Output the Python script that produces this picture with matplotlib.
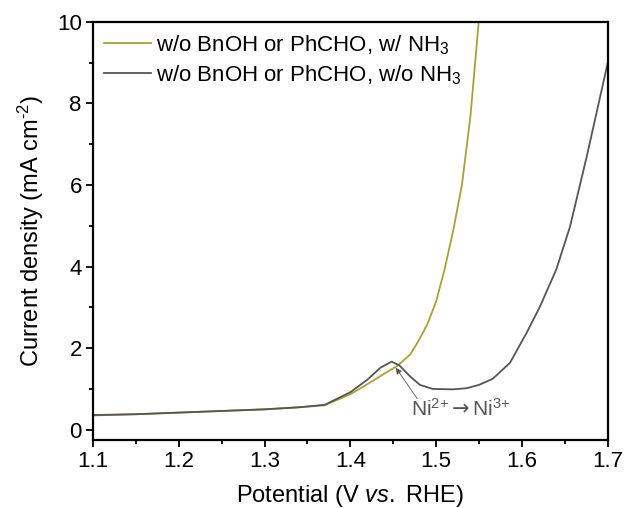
import matplotlib.pyplot as plt
from matplotlib.ticker import MultipleLocator

plt.rcParams["font.family"] = ["Liberation Sans", "DejaVu Sans"]
plt.rcParams["mathtext.fontset"] = "custom"
plt.rcParams["mathtext.rm"] = "Liberation Sans"
plt.rcParams["mathtext.it"] = "Liberation Sans:italic"
plt.rcParams["mathtext.bf"] = "Liberation Sans:bold"
plt.rcParams["mathtext.sf"] = "DejaVu Sans"

# LSV curves, potential in V vs. RHE, current density in mA cm^-2
pot_nh3 = [1.10, 1.15, 1.20, 1.25, 1.30, 1.34, 1.37, 1.40, 1.42, 1.44, 1.455,
           1.47, 1.48, 1.49, 1.50, 1.51, 1.52, 1.53, 1.54, 1.55]
cur_nh3 = [0.35, 0.38, 0.42, 0.46, 0.50, 0.55, 0.60, 0.87, 1.12, 1.38, 1.57,
           1.85, 2.20, 2.60, 3.15, 3.95, 4.90, 6.00, 7.70, 10.10]

pot_no_nh3 = [1.10, 1.15, 1.20, 1.25, 1.30, 1.34, 1.37, 1.40, 1.42, 1.435, 1.448,
              1.457, 1.469, 1.481, 1.496, 1.52, 1.536, 1.55, 1.566, 1.586, 1.6055,
              1.621, 1.64, 1.656, 1.6755, 1.70]
cur_no_nh3 = [0.36, 0.38, 0.42, 0.46, 0.50, 0.55, 0.61, 0.92, 1.23, 1.52, 1.67,
              1.58, 1.32, 1.10, 1.00, 0.99, 1.02, 1.10, 1.25, 1.64, 2.38,
              3.02, 3.93, 4.98, 6.70, 9.00]

fig = plt.figure(figsize=(6.24, 5.08), dpi=100)
ax = fig.add_axes([0.149, 0.134, 0.825, 0.823])

ax.plot(pot_nh3, cur_nh3, color="#a5a336", lw=1.3,
        label="w/o BnOH or PhCHO, w/ NH$_3$")
ax.plot(pot_no_nh3, cur_no_nh3, color="#555555", lw=1.3,
        label="w/o BnOH or PhCHO, w/o NH$_3$")

# redox peak label with a thin pointer to the peak shoulder
ax.text(1.471, 0.52,
        "$\\mathrm{Ni}^{2{+}}{\\mathsf{\\rightarrow}}\\mathrm{Ni}^{3{+}}$",
        fontsize=15, color="#555555", va="center", ha="left")
ax.annotate("", xy=(1.453, 1.52), xytext=(1.478, 0.76),
            arrowprops=dict(arrowstyle="-|>", color="#555555", lw=0.6,
                            mutation_scale=9, shrinkA=0, shrinkB=0))

ax.set_xlim(1.1, 1.7)
ax.set_ylim(-0.25, 10)
ax.xaxis.set_major_locator(MultipleLocator(0.1))
ax.xaxis.set_minor_locator(MultipleLocator(0.05))
ax.yaxis.set_major_locator(MultipleLocator(2))
ax.yaxis.set_minor_locator(MultipleLocator(1))
ax.tick_params(which="both", direction="out", width=1.3, labelsize=16)
ax.tick_params(which="major", length=5, pad=3)
ax.tick_params(which="minor", length=3)
for s in ax.spines.values():
    s.set_linewidth(1.6)

ax.set_xlabel("Potential (V $\\mathit{vs.}$ RHE)", fontsize=17, labelpad=8)
ax.set_ylabel("Current density (mA cm$^{\\text{-}2}$)", fontsize=17, labelpad=8)

ax.legend(loc="upper left", frameon=False, fontsize=16, handlelength=2.1,
          handletextpad=0.25, borderaxespad=0.1, labelspacing=0.3)

fig.savefig("out.png", dpi=100)
